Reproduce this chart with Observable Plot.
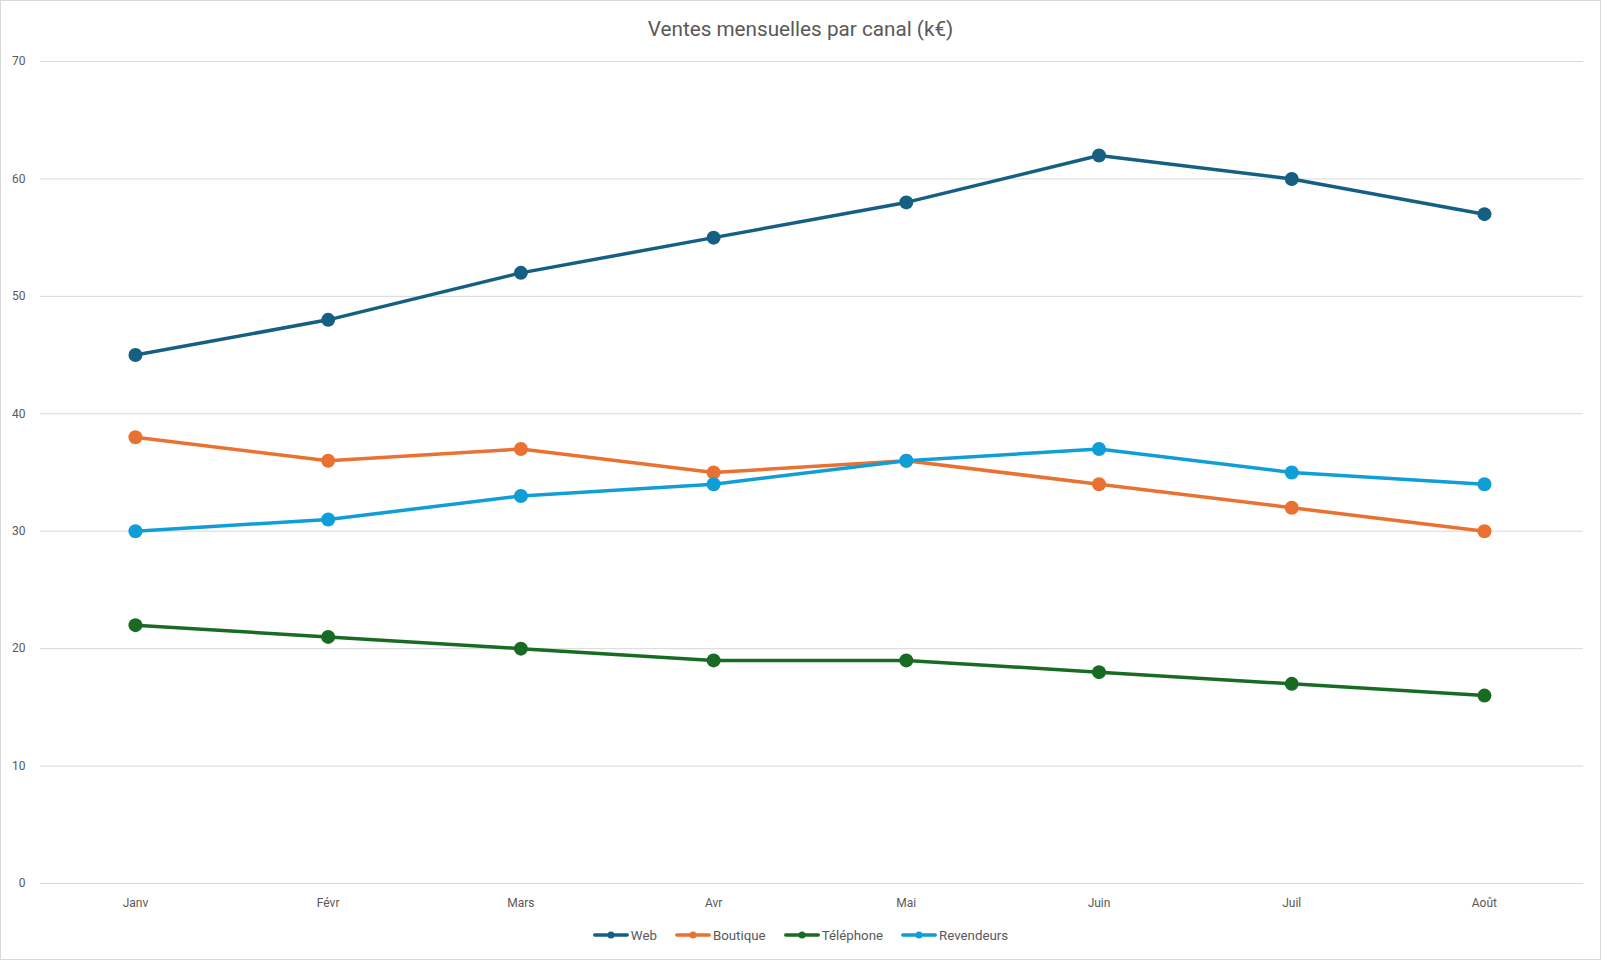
<!DOCTYPE html>
<html>
<head>
<meta charset="utf-8">
<script src="https://cdn.jsdelivr.net/npm/d3@7"></script>
<script src="https://cdn.jsdelivr.net/npm/@observablehq/plot@0.6"></script>
<style>
  html, body { margin: 0; padding: 0; background: #fff; }
  #wrap { position: relative; width: 1601px; height: 960px; overflow: hidden; font-family: Roboto, "Noto Sans", sans-serif; }
  #frame { position: absolute; left: 0; top: 0; width: 1601px; height: 960px; box-sizing: border-box; border: 1px solid #d9d9d9; pointer-events: none; }
  #title { position: absolute; left: 0; top: 0; width: 1601px; height: 48px; line-height: 58px; text-align: center; font-size: 20.7px; color: #595959; }
  #chart { position: absolute; left: 0; top: 48px; }
  #legend { position: absolute; left: 0; top: 920px; width: 1601px; height: 30px; display: flex; justify-content: center; align-items: center; font-size: 13.3px; color: #595959; }
  .item { display: flex; align-items: center; margin: 0 9px; }
  .item svg { margin-right: 2px; }
</style>
</head>
<body>
<div id="wrap">
  <div id="title">Ventes mensuelles par canal (k€)</div>
  <div id="chart"></div>
  <div id="legend"></div>
  <div id="frame"></div>
</div>
<script>
const months = ["Janv", "Févr", "Mars", "Avr", "Mai", "Juin", "Juil", "Août"];
const seriesNames = ["Web", "Boutique", "Téléphone", "Revendeurs"];
const seriesColors = ["#156082", "#E97132", "#196B24", "#0F9ED5"];
const web = [45, 48, 52, 55, 58, 62, 60, 57];
const boutique = [38, 36, 37, 35, 36, 34, 32, 30];
const telephone = [22, 21, 20, 19, 19, 18, 17, 16];
const revendeurs = [30, 31, 33, 34, 36, 37, 35, 34];
const yTicks = [0, 10, 20, 30, 40, 50, 60, 70];

const seriesValues = [web, boutique, telephone, revendeurs];
const data = [];
seriesNames.forEach((name, i) => {
  months.forEach((m, j) => data.push({ serie: name, mois: m, valeur: seriesValues[i][j] }));
});

const plot = Plot.plot({
  width: 1601,
  height: 872,
  marginLeft: 40,
  marginRight: 18,
  marginTop: 13,
  marginBottom: 37,
  style: { fontFamily: "Roboto, 'Noto Sans', sans-serif", fontSize: "12px", color: "#595959", background: "transparent" },
  x: { type: "point", domain: months, padding: 0.5, round: false, insetLeft: -1.4, insetRight: 2.7, label: null },
  y: { domain: [0, 70], label: null },
  color: { domain: seriesNames, range: seriesColors },
  marks: [
    Plot.gridY(yTicks, { stroke: "#d9d9d9", strokeOpacity: 1, strokeWidth: 1 }),
    Plot.axisY(yTicks, { tickSize: 0, tickPadding: 15, label: null, fill: "#595959" }),
    Plot.axisX({ tickSize: 0, tickPadding: 15, label: null, fill: "#595959" }),
    Plot.line(data, { x: "mois", y: "valeur", z: "serie", stroke: "serie", strokeWidth: 3.5, strokeLinejoin: "round", strokeLinecap: "round" }),
    Plot.dot(data, { x: "mois", y: "valeur", fill: "serie", r: 7, stroke: "none" })
  ]
});
document.getElementById("chart").appendChild(plot);

const legend = document.getElementById("legend");
seriesNames.forEach((name, i) => {
  const item = document.createElement("div");
  item.className = "item";
  item.innerHTML = `<svg width="36" height="10"><line x1="1.75" y1="5" x2="34.25" y2="5" stroke="${seriesColors[i]}" stroke-width="3.5" stroke-linecap="round"/><circle cx="18" cy="5" r="3.5" fill="${seriesColors[i]}"/></svg><span>${name}</span>`;
  legend.appendChild(item);
});
</script>
</body>
</html>
